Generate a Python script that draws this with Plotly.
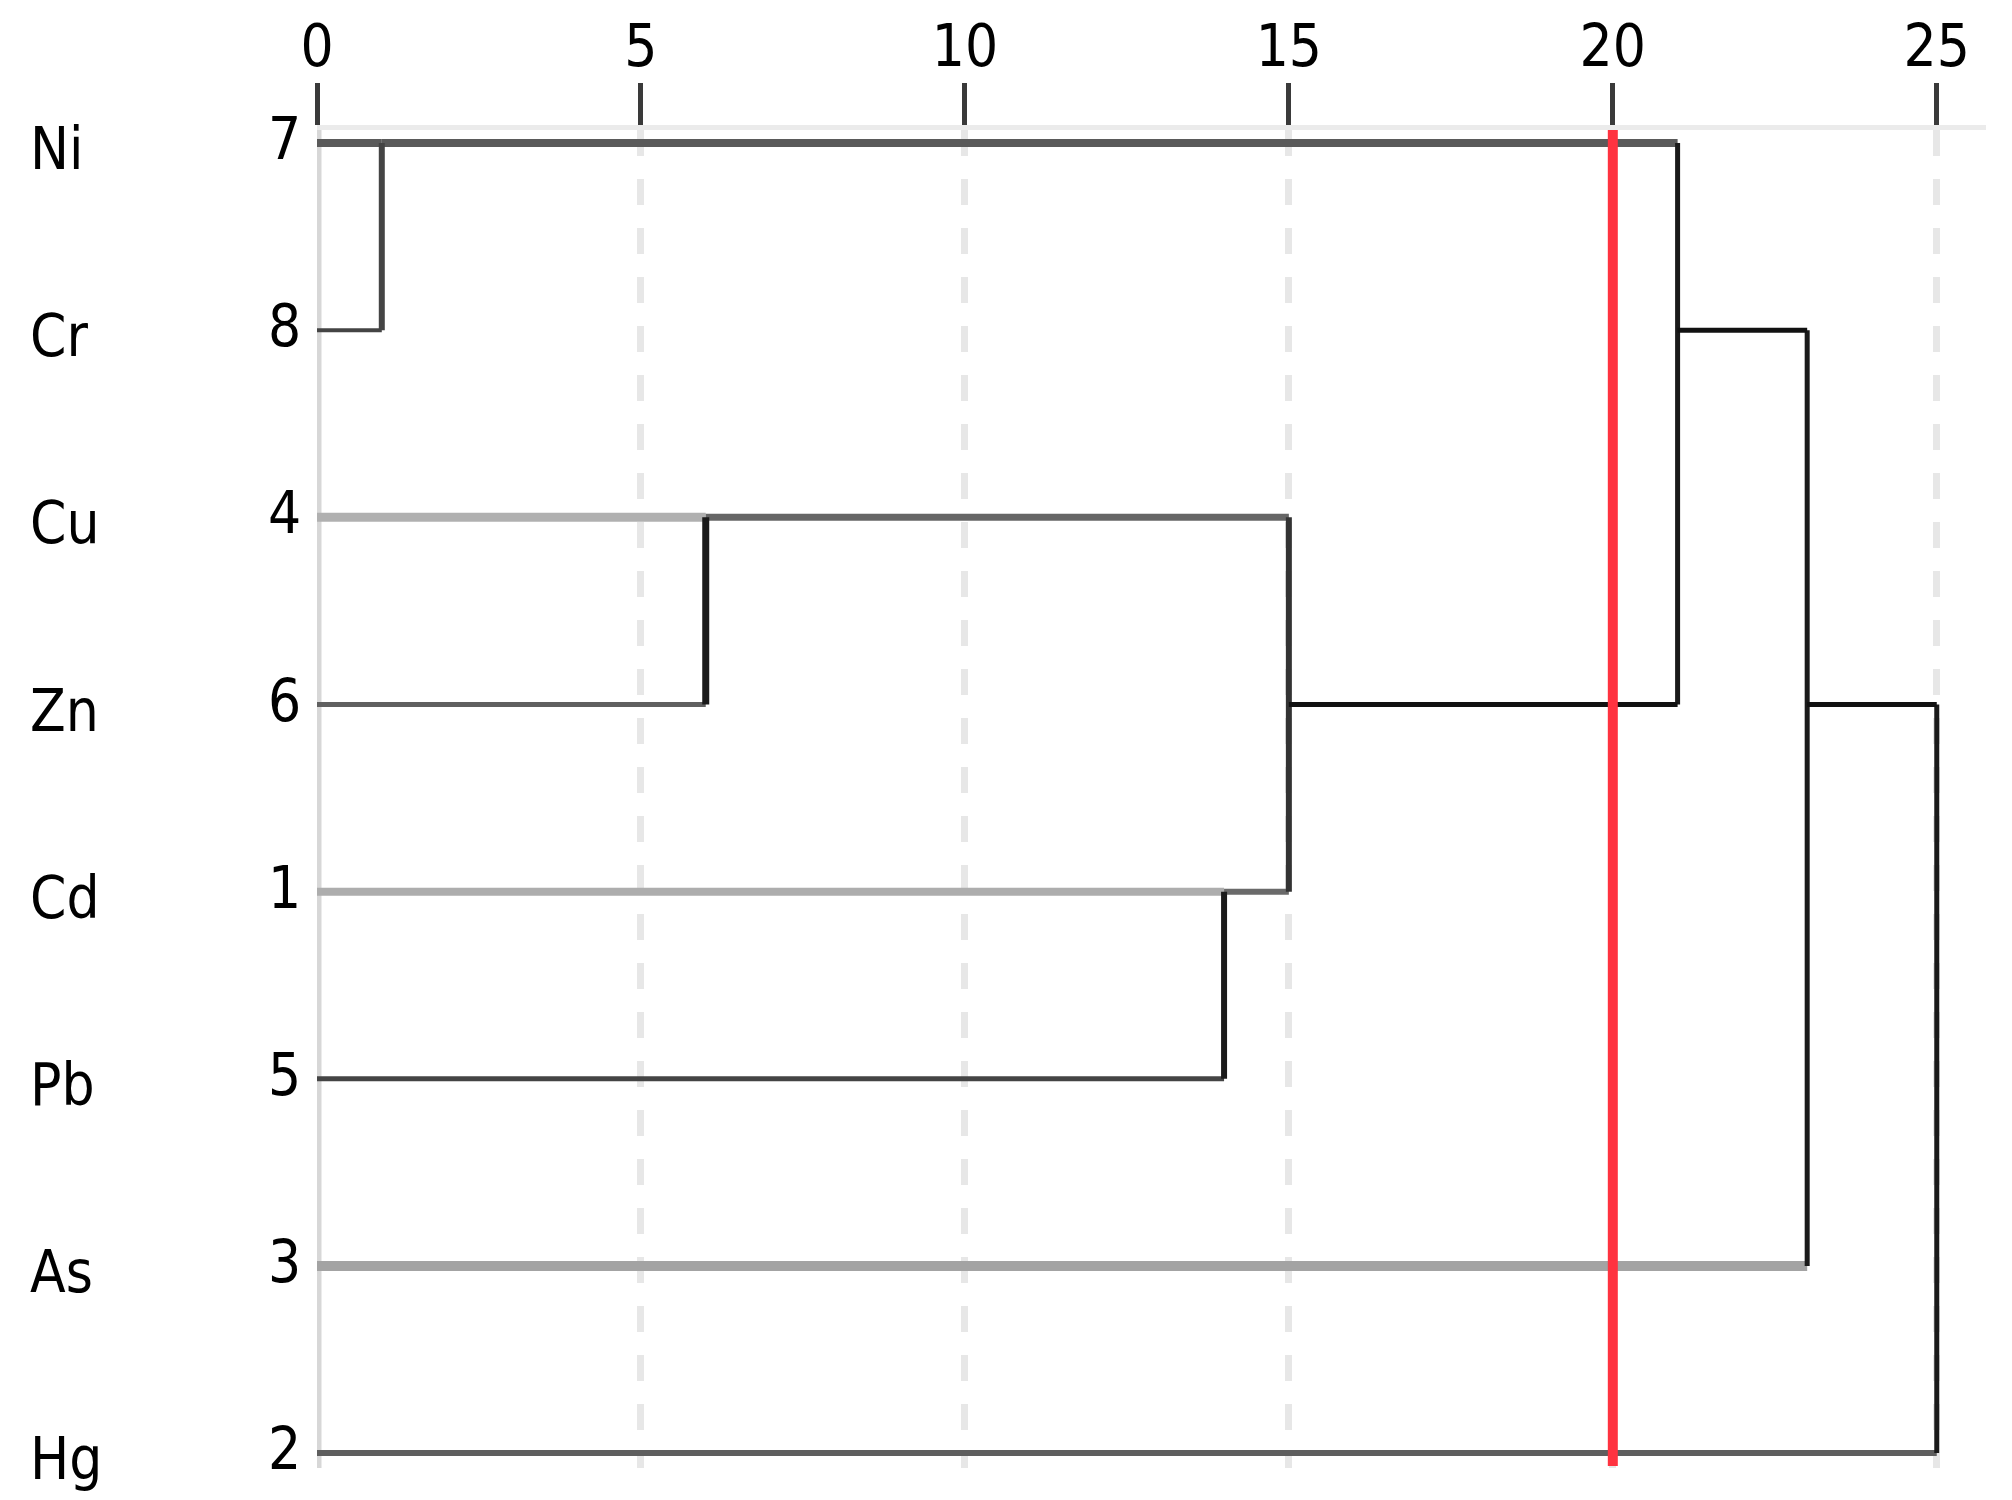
import plotly.graph_objects as go

# данные дендрограммы (ось - перешкалированное расстояние 0..25)
elements = ["Ni", "Cr", "Cu", "Zn", "Cd", "Pb", "As", "Hg"]
case_ids = [7, 8, 4, 6, 1, 5, 3, 2]

# шаги объединения: кластеры 0..7 - листья, 8.. - новые кластеры
merge_a = [0, 2, 4, 9, 8, 12, 13]
merge_b = [1, 3, 5, 10, 11, 6, 7]
merge_dist = [1, 6, 14, 15, 21, 23, 25]

cut_level = 20
x_ticks = [0, 5, 10, 15, 20, 25]

FONT = "Liberation Sans Narrow, DejaVu Sans Condensed, Arial Narrow, sans-serif"

# стиль горизонтальных линий по номеру кластера-потомка и вертикальных по шагу
h_style = {
    0: ("#5a5a5a", 8), 1: ("#444444", 4), 2: ("#b0b0b0", 9), 3: ("#606060", 5),
    4: ("#adadad", 8), 5: ("#444444", 5), 6: ("#a3a3a3", 10), 7: ("#5e5e5e", 6),
    8: ("#5a5a5a", 8), 9: ("#666666", 7), 10: ("#6a6a6a", 6), 11: ("#111111", 5),
    12: ("#111111", 5), 13: ("#111111", 5),
}
v_style = [("#444444", 6), ("#1a1a1a", 7), ("#1a1a1a", 6), ("#333333", 6),
           ("#1a1a1a", 5), ("#1a1a1a", 5), ("#1a1a1a", 5)]

n = len(elements)
row = {i: i for i in range(n)}
xpos = {i: 0 for i in range(n)}

traces = []
for k, (a, b, d) in enumerate(zip(merge_a, merge_b, merge_dist)):
    for c in (a, b):
        color, w = h_style[c]
        traces.append(go.Scatter(x=[xpos[c], d], y=[row[c], row[c]], mode="lines",
                                 line=dict(color=color, width=w), hoverinfo="skip"))
    color, w = v_style[k]
    traces.append(go.Scatter(x=[d, d], y=[row[a], row[b]], mode="lines",
                             line=dict(color=color, width=w), hoverinfo="skip"))
    new_id = n + k
    row[new_id] = (row[a] + row[b]) // 2
    xpos[new_id] = d

# сначала серые, потом тёмные линии
traces.sort(key=lambda t: -int(t.line.color[1:3], 16))

fig = go.Figure(data=traces)

annotations = []
for i, (el, cid) in enumerate(zip(elements, case_ids)):
    annotations.append(dict(x=0, y=i, xref="paper", yref="y", text=el, showarrow=False,
                            xanchor="left", xshift=-289, yshift=-6,
                            font=dict(family=FONT, size=58, color="black")))
    annotations.append(dict(x=0, y=i, xref="paper", yref="y", text=str(cid), showarrow=False,
                            xanchor="right", xshift=-14, yshift=4,
                            font=dict(family=FONT, size=58, color="black")))

fig.update_layout(
    width=2012,
    height=1500,
    showlegend=False,
    plot_bgcolor="white",
    paper_bgcolor="white",
    margin=dict(l=309, r=34, t=122, b=40),
    annotations=annotations,
    shapes=[
        dict(type="line", x0=0, x1=0, y0=0, y1=1, xref="x", yref="paper",
             line=dict(color="#d7d7d7", width=9), layer="below"),
        dict(type="line", x0=cut_level, x1=cut_level, y0=0.0015, y1=1, xref="x", yref="paper",
             line=dict(color="#ff3340", width=10), layer="above"),
    ],
    xaxis=dict(
        range=[0, 25.76],
        side="top",
        automargin=False,
        tickvals=x_ticks,
        ticktext=[str(v) for v in x_ticks],
        ticks="outside",
        ticklen=42,
        tickwidth=5,
        tickcolor="#3a3a3a",
        ticklabelstandoff=-6,
        tickfont=dict(family=FONT, size=58, color="black"),
        showgrid=True,
        gridcolor="#e7e7e7",
        gridwidth=7,
        griddash="26px,23px",
        showline=True,
        linecolor="#ebebeb",
        linewidth=5,
        zeroline=False,
    ),
    yaxis=dict(
        range=[7.08, -0.07],
        automargin=False,
        showticklabels=False,
        showgrid=False,
        zeroline=False,
        showline=False,
    ),
)

fig.write_html("out.html")
